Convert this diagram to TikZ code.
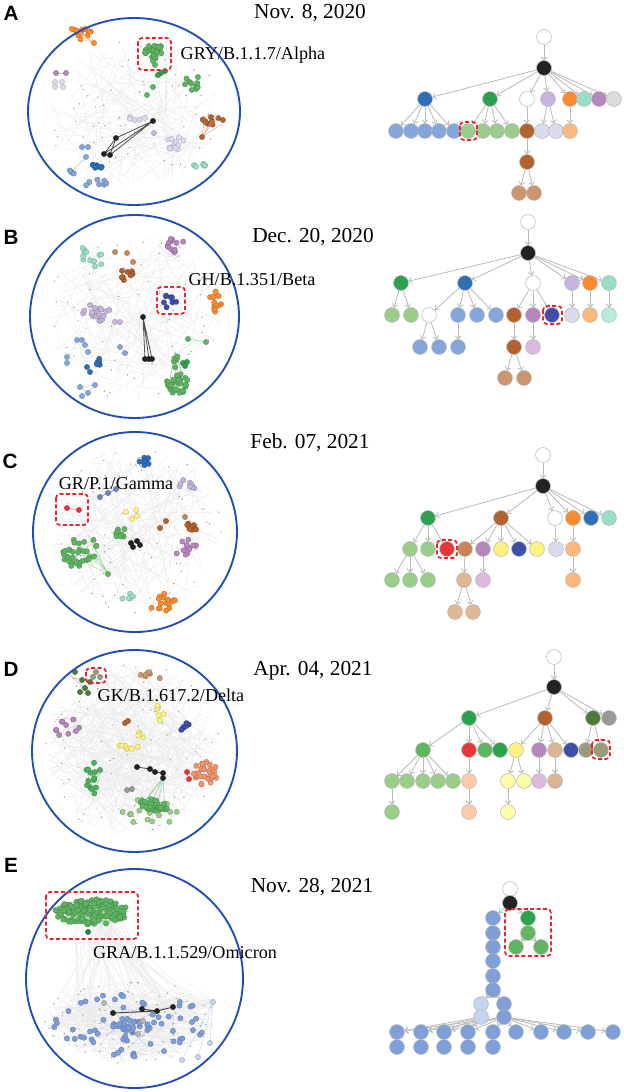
\documentclass[tikz,border=0pt]{standalone}
\usepackage{fontspec}
\setmainfont{Liberation Serif}
\newfontfamily\lsans{Liberation Sans}
\usetikzlibrary{arrows.meta}
\pgfdeclarelayer{bg}\pgfdeclarelayer{edg}\pgfsetlayers{bg,edg,main}
\definecolor{cBlack}{HTML}{222222}
\definecolor{cBlue}{HTML}{2F6FB8}
\definecolor{cGreen}{HTML}{2CA24E}
\definecolor{cLav}{HTML}{C6B4DC}
\definecolor{cOrange}{HTML}{F98B2E}
\definecolor{cTeal}{HTML}{99DDC9}
\definecolor{cPurple}{HTML}{B687BC}
\definecolor{cGray}{HTML}{DCDCDC}
\definecolor{cLBlue}{HTML}{84A6DA}
\definecolor{cLGreen}{HTML}{9ACD8A}
\definecolor{cBrown}{HTML}{B3612E}
\definecolor{cLLav}{HTML}{DCDBEE}
\definecolor{cLOrange}{HTML}{FCB77A}
\definecolor{cTan}{HTML}{CC9570}
\definecolor{cNavy}{HTML}{3F4FA8}
\definecolor{cLPurple}{HTML}{DCBADF}
\definecolor{cLTeal}{HTML}{B8EBDA}
\definecolor{cRed}{HTML}{E9363B}
\definecolor{cBrownish}{HTML}{C98558}
\definecolor{cYellow}{HTML}{FDF27E}
\definecolor{cLTan}{HTML}{DDB893}
\definecolor{cDOlive}{HTML}{4E7A3A}
\definecolor{cOGray}{HTML}{9A9B79}
\definecolor{cMGreen}{HTML}{5FB562}
\definecolor{cSalmonL}{HTML}{FDCBA5}
\definecolor{cDTan}{HTML}{DAB593}
\definecolor{cLYellow}{HTML}{FDFDA8}
\definecolor{cGrayD}{HTML}{999999}
\definecolor{cGrayL}{HTML}{B8B8B8}
\definecolor{cEBlue}{HTML}{7E9FD8}
\definecolor{cELBlue}{HTML}{C5D4EE}
\definecolor{cSalmon}{HTML}{F4926E}
\definecolor{cNavyL}{HTML}{7680C8}
\definecolor{cGreenD}{HTML}{238A40}
\definecolor{cGreenM}{HTML}{4DB05C}
\definecolor{cRing}{HTML}{1F4FB5}
\definecolor{cRedBox}{HTML}{E8262A}
\tikzset{
  tn/.style={circle, minimum size=11.2pt, inner sep=0pt, draw=black!28, line width=0.4pt},
  te/.style={draw=black!27, line width=0.6pt, -{Straight Barb[length=2.2pt,width=4.4pt]}},
  rb/.style={draw=cRedBox, line width=1.3pt, dash pattern=on 3pt off 1.8pt, rounded corners=3pt},
  ring/.style={draw=cRing, line width=1.4pt},
  netline/.style={draw=black!8, line width=0.25pt},
  datef/.style={font=\fontsize{16}{18}\selectfont},
  labf/.style={font=\fontsize{13.6}{15}\selectfont},
  letf/.style={font=\lsans\bfseries\fontsize{15.5}{15.5}\selectfont},
}
\newcommand\netlink[9]{%
 \foreach \k in {1,...,#9}{%
  \pgfmathsetmacro\qa{360*rnd}\pgfmathsetmacro\qr{sqrt(rnd)}%
  \pgfmathsetmacro\qb{360*rnd}\pgfmathsetmacro\qs{sqrt(rnd)}%
  \draw[netline] ({#1+#3*\qr*cos(\qa)},{#2+#4*\qr*sin(\qa)}) -- ({#5+#7*\qs*cos(\qb)},{#6+#8*\qs*sin(\qb)});}}
\newcommand\netdots[5]{%
 \foreach \k in {1,...,#5}{%
  \pgfmathsetmacro\qa{360*rnd}\pgfmathsetmacro\qr{sqrt(rnd)}%
  \fill[black!40] ({#1+#3*\qr*cos(\qa)},{#2+#4*\qr*sin(\qa)}) circle[radius=0.55pt];}}
\newcommand\netclus[7]{%
 \ifnum#7>0 \foreach \k in {1,...,#7}{%
  \pgfmathsetmacro\qa{360*rnd}\pgfmathsetmacro\qr{sqrt(rnd)}%
  \pgfmathsetmacro\qb{360*rnd}\pgfmathsetmacro\qs{sqrt(rnd)}%
  \draw[#6!55, line width=0.3pt] ({#1+#3*\qr*cos(\qa)},{#2+#4*\qr*sin(\qa)}) -- ({#1+#3*\qs*cos(\qb)},{#2+#4*\qs*sin(\qb)});}\fi
 \foreach \k in {1,...,#5}{%
  \pgfmathsetmacro\qa{360*rnd}\pgfmathsetmacro\qr{sqrt(rnd)}%
  \fill[#6, draw=#6!75!black, line width=0.25pt] ({#1+#3*\qr*cos(\qa)},{#2+#4*\qr*sin(\qa)}) circle[radius=2pt];}}
\newcommand\ndot[3]{\fill[#1, draw=#1!75!black, line width=0.25pt] (#2,#3) circle[radius=2pt];}
\newcommand\tnode[4]{\node[tn, fill=#1] (#2) at (#3,#4) {};}
\newcommand\tedges[2]{\begin{pgfonlayer}{edg}\foreach \t in {#2}{\draw[te] (#1) -- (\t);}\end{pgfonlayer}}
\begin{document}
\begin{tikzpicture}[x=0.75pt,y=-0.75pt]
\pgfmathsetseed{7}
\useasboundingbox (0,0) rectangle (624,1092);
\begin{pgfonlayer}{bg}\fill[white] (0,0) rectangle (624,1092);\end{pgfonlayer}

% ===================== Panel A =====================
\node[letf] (lA) at (11,13) {A};
\node[datef] (dA) at (310,13) {Nov. 8, 2020};
\netlink{134}{112}{88}{76}{134}{112}{88}{76}{110}
\netdots{134}{112}{88}{76}{60}
\netclus{80}{32}{12}{8}{12}{cOrange}{6}
\foreach \p in {(75,30),(82,34),(88,28),(70,36),(86,38)} \draw[cOrange!60, line width=0.3pt] (94,43) -- \p;
\ndot{cOrange}{94}{43}
\netclus{155}{52}{12}{7}{26}{cMGreen}{10}
\ndot{cMGreen}{153}{61}\ndot{cMGreen}{155}{65}
\ndot{cGreen}{161}{73}\ndot{cGreen}{165}{71}\ndot{cGreen}{158}{75}
\netclus{193}{83}{9}{7}{10}{cMGreen}{4}
\ndot{cMGreen}{153}{87}\ndot{cMGreen}{147}{95}
\draw[cPurple!60] (56,73) -- (66,73); \ndot{cPurple}{56}{73}\ndot{cPurple}{66}{73}
\ndot{cLLav}{55}{82}\ndot{cLLav}{62}{82}\ndot{cLLav}{55}{87}\ndot{cLLav}{63}{87}
\netclus{137}{118}{8}{3}{5}{cLLav}{0}
\draw[cBlack!80, line width=0.6pt] (153,121) -- (104,154) (153,121) -- (110,155) (116,138) -- (104,154) (116,138) -- (110,155) (153,121) -- (116,138);
\ndot{cBlack}{153}{121}\ndot{cBlack}{116}{138}\ndot{cBlack}{104}{154}\ndot{cBlack}{110}{155}
\netclus{176}{143}{11}{7}{14}{cLLav}{0}
\ndot{cLav}{154}{133}
\netclus{212}{120}{12}{6}{10}{cBrown}{3}
\foreach \p in {(205,117),(212,120),(218,115),(222,124)} \draw[cBrown!60, line width=0.3pt] (202,137) -- \p;
\ndot{cBrown}{202}{137}
\netclus{198}{166}{10}{3}{6}{cTeal}{3}
\draw[cLBlue!70] (86,157) -- (73,170);
\ndot{cLBlue}{82}{147}\ndot{cLBlue}{88}{147}\ndot{cLBlue}{86}{157}
\netclus{97}{166}{5}{3}{7}{cBlue}{0}
\netclus{73}{171}{5}{3}{4}{cLBlue}{1}
\netclus{95}{182}{13}{5}{7}{cLBlue}{2}
\draw[ring] (134,111.5) ellipse[x radius=106, y radius=93.5];
\draw[rb] (138,38) rectangle (171,70);
\node[labf] (vA) at (253,55) {GRY/B.1.1.7/Alpha};

% tree A
\tnode{white}{A0}{544}{37}
\tnode{cBlack}{A1}{544}{68}
\tnode{cBlue}{A2a}{425}{99}\tnode{cGreen}{A2b}{490}{99}\tnode{white}{A2c}{527}{99}
\tnode{cLav}{A2d}{548}{99}\tnode{cOrange}{A2e}{570}{99}\tnode{cTeal}{A2f}{584}{99}
\tnode{cPurple}{A2g}{599}{99}\tnode{cGray}{A2h}{614}{99}
\tnode{cLBlue}{A3a}{396}{131}\tnode{cLBlue}{A3b}{411}{131}\tnode{cLBlue}{A3c}{425}{131}
\tnode{cLBlue}{A3d}{439}{131}\tnode{cLBlue}{A3e}{454}{131}
\tnode{cLGreen}{A3f}{468}{131}\tnode{cLGreen}{A3g}{483}{131}\tnode{cLGreen}{A3h}{497}{131}\tnode{cLGreen}{A3i}{512}{131}
\tnode{cBrown}{A3j}{527}{131}\tnode{cLLav}{A3k}{542}{131}\tnode{cLLav}{A3l}{556}{131}\tnode{cLOrange}{A3m}{570}{131}
\tnode{cBrown}{A4}{527}{162}
\tnode{cTan}{A5a}{519}{193}\tnode{cTan}{A5b}{534}{193}
\tedges{A0}{A1}
\tedges{A1}{A2a,A2b,A2c,A2d,A2e,A2f,A2g,A2h}
\tedges{A2a}{A3a,A3b,A3c,A3d,A3e}
\tedges{A2b}{A3f,A3g,A3h,A3i}
\tedges{A2c}{A3j}
\tedges{A2d}{A3k,A3l}
\tedges{A2e}{A3m}
\tedges{A3j}{A4}
\tedges{A4}{A5a,A5b}
\draw[rb] (460,122) rectangle (477,140);

% ===================== Panel B =====================
\node[letf] (lB) at (11,237) {B};
\node[datef] (dB) at (313,237) {Dec. 20, 2020};
\netlink{134}{316}{88}{85}{134}{316}{88}{85}{120}
\netdots{134}{316}{88}{85}{60}
\netclus{93}{255}{13}{12}{12}{cTeal}{5}
\ndot{cBrownish}{115}{252}\ndot{cBrownish}{127}{253}\ndot{cBrownish}{133}{262}
\netclus{127}{275}{6}{8}{8}{cBrown}{2}
\netclus{175}{248}{12}{12}{12}{cPurple}{4}
\netclus{169}{301}{8}{7}{8}{cNavy}{3}
\netclus{216}{301}{7}{11}{12}{cOrange}{4}
\netclus{96}{313}{14}{10}{20}{cLav}{4}
\ndot{cLav}{115}{322}\ndot{cLav}{120}{322}
\draw[cBlack!80, line width=0.6pt] (143,317) -- (145,359) (143,317) -- (149,359) (143,317) -- (152,359);
\ndot{cBlack}{143}{317}\ndot{cBlack}{145}{359}\ndot{cBlack}{149}{359}\ndot{cBlack}{152}{359}
\draw[cMGreen!60] (188,339) -- (206,342); \ndot{cMGreen}{188}{339}\ndot{cMGreen}{206}{342}
\foreach \p in {(170,378),(176,385),(184,380),(188,390),(168,392),(180,395)} \draw[cMGreen!60, line width=0.3pt] (175,352) -- \p;
\netclus{178}{384}{12}{10}{30}{cMGreen}{8}
\netclus{175}{361}{3}{8}{6}{cMGreen}{3}
\ndot{cGreen}{183}{363}\ndot{cGreen}{187}{362}\ndot{cGreen}{185}{366}
\ndot{cLBlue}{77}{340}\ndot{cLBlue}{82}{340}\ndot{cLBlue}{85}{345}\ndot{cLBlue}{88}{352}
\ndot{cLBlue}{67}{357}\ndot{cLBlue}{67}{363}
\netclus{100}{362}{4}{4}{6}{cBlue}{0}
\ndot{cBlue}{87}{367}\ndot{cBlue}{90}{372}
\ndot{cLBlue}{120}{347}\ndot{cLBlue}{125}{353}
\draw[cLBlue!70] (80,387) -- (95,385) -- (88,393) -- (80,387);
\ndot{cLBlue}{80}{387}\ndot{cLBlue}{95}{385}\ndot{cLBlue}{88}{393}\ndot{cLBlue}{82}{396}
\draw[ring] (134.5,316.5) ellipse[x radius=104.5, y radius=101.5];
\draw[rb] (157,287) rectangle (185,314);
\node[labf] (vB) at (252,280) {GH/B.1.351/Beta};

% tree B
\tnode{white}{B0}{528}{222}
\tnode{cBlack}{B1}{528}{253}
\tnode{cGreen}{B2a}{401}{283}\tnode{cBlue}{B2b}{465}{283}\tnode{white}{B2c}{533}{283}
\tnode{cLav}{B2d}{572}{283}\tnode{cOrange}{B2e}{590}{283}\tnode{cTeal}{B2f}{609}{283}
\tnode{cLGreen}{B3a}{392}{315}\tnode{cLGreen}{B3b}{411}{315}\tnode{white}{B3c}{429}{315}
\tnode{cLBlue}{B3d}{458}{315}\tnode{cLBlue}{B3e}{477}{315}\tnode{cLBlue}{B3f}{496}{315}
\tnode{cBrown}{B3g}{514}{315}\tnode{cPurple}{B3h}{533}{315}\tnode{cNavy}{B3i}{552}{315}
\tnode{cLLav}{B3j}{572}{315}\tnode{cLOrange}{B3k}{590}{315}\tnode{cLTeal}{B3l}{609}{315}
\tnode{cLBlue}{B4a}{420}{347}\tnode{cLBlue}{B4b}{439}{347}\tnode{cLBlue}{B4c}{458}{347}
\tnode{cBrown}{B4d}{514}{347}\tnode{cLPurple}{B4e}{533}{347}
\tnode{cTan}{B5a}{505}{378}\tnode{cTan}{B5b}{524}{378}
\tedges{B0}{B1}
\tedges{B1}{B2a,B2b,B2c,B2d,B2e,B2f}
\tedges{B2a}{B3a,B3b}
\tedges{B2b}{B3c,B3d,B3e,B3f}
\tedges{B3c}{B4a,B4b}
\tedges{B3d}{B4c}
\tedges{B2c}{B3g,B3h,B3i}
\tedges{B2d}{B3j}
\tedges{B2e}{B3k}
\tedges{B2f}{B3l}
\tedges{B3g}{B4d}
\tedges{B3h}{B4e}
\tedges{B4d}{B5a,B5b}
\draw[rb] (543,306) rectangle (562,324);

% ===================== Panel C =====================
\node[letf] (lC) at (10,461) {C};
\node[datef] (dC) at (310,443) {Feb. 07, 2021};
\netlink{135}{530}{88}{85}{135}{530}{88}{85}{150}
\netdots{135}{530}{88}{85}{60}
\netclus{142}{463}{9}{7}{8}{cBlue}{6}
\netclus{188}{486}{9}{7}{8}{cLav}{3}
\draw[cNavyL] (100,497) -- (116,489);
\ndot{cNavyL}{100}{497}\ndot{cNavyL}{108}{493}\ndot{cNavyL}{116}{489}
\draw[cRed!70] (67,508) -- (79,510); \ndot{cRed}{67}{508}\ndot{cRed}{79}{510}
\ndot{cYellow}{126}{512}\ndot{cYellow}{136}{510}\ndot{cYellow}{137}{516}\ndot{cYellow}{132}{519}
\draw[cBrown!60] (160,528) -- (166,521); \ndot{cBrown}{160}{528}\ndot{cBrown}{166}{521}
\ndot{cBrownish}{185}{517}
\netclus{193}{526}{7}{6}{8}{cBrown}{2}
\ndot{cBlack}{131}{543}\ndot{cBlack}{137}{541}\ndot{cBlack}{133}{547}\ndot{cBlack}{140}{545}
\netclus{118}{533}{9}{6}{8}{cMGreen}{4}
\foreach \p in {(85,548),(95,555),(90,540),(100,562),(80,560),(88,535)} \draw[cMGreen!60, line width=0.3pt] (108,574) -- \p;
\netclus{82}{553}{20}{16}{32}{cMGreen}{12}
\ndot{cMGreen}{108}{574}
\netclus{186}{550}{13}{12}{14}{cPurple}{6}
\netclus{128}{596}{8}{4}{5}{cTeal}{2}
\netclus{162}{603}{14}{10}{16}{cOrange}{8}
\draw[ring] (135,532) ellipse[x radius=102, y radius=100];
\draw[rb] (56,494) rectangle (88,525);
\node[labf] (vC) at (116,484) {GR/P.1/Gamma};

% tree C
\tnode{white}{C0}{543}{455}
\tnode{cBlack}{C1}{543}{486}
\tnode{cGreen}{C2a}{428}{518}\tnode{cBrown}{C2b}{501}{518}\tnode{white}{C2c}{555}{518}
\tnode{cOrange}{C2d}{573}{518}\tnode{cBlue}{C2e}{591}{518}\tnode{cTeal}{C2f}{609}{518}
\tnode{cLGreen}{C3a}{410}{549}\tnode{cLGreen}{C3b}{428}{549}\tnode{cRed}{C3c}{447}{549}
\tnode{cBrownish}{C3d}{465}{549}\tnode{cPurple}{C3e}{483}{549}\tnode{cYellow}{C3f}{501}{549}
\tnode{cNavy}{C3g}{519}{549}\tnode{cYellow}{C3h}{537}{549}\tnode{cLLav}{C3i}{556}{549}
\tnode{cLOrange}{C3j}{573}{549}
\tnode{cLGreen}{C4a}{392}{580}\tnode{cLGreen}{C4b}{410}{580}\tnode{cLGreen}{C4c}{428}{580}
\tnode{cLTan}{C4d}{464}{580}\tnode{cLPurple}{C4e}{483}{580}\tnode{cLOrange}{C4f}{573}{580}
\tnode{cLTan}{C5a}{455}{612}\tnode{cLTan}{C5b}{473}{612}
\tedges{C0}{C1}
\tedges{C1}{C2a,C2b,C2c,C2d,C2e,C2f}
\tedges{C2a}{C3a,C3b,C3c}
\tedges{C2b}{C3d,C3e,C3f,C3g,C3h}
\tedges{C2c}{C3i}
\tedges{C2d}{C3j}
\tedges{C3a}{C4a,C4b,C4c}
\tedges{C3d}{C4d}
\tedges{C3e}{C4e}
\tedges{C3j}{C4f}
\tedges{C4d}{C5a,C5b}
\draw[rb] (437,540) rectangle (457,558);

% ===================== Panel D =====================
\node[letf] (lD) at (11,669) {D};
\node[datef] (dD) at (313,671) {Apr. 04, 2021};
\netlink{134}{750}{90}{88}{134}{750}{90}{88}{320}
\netdots{134}{750}{90}{88}{70}
\draw[cDOlive!50] (70,675) -- (85,688) (72,678) -- (90,680);
\ndot{cDOlive}{75}{672}\ndot{cDOlive}{82}{680}\ndot{cDOlive}{85}{688}\ndot{cDOlive}{90}{682}
\ndot{cDOlive}{80}{692}\ndot{cDOlive}{88}{693}
\ndot{cOGray}{93}{677}\ndot{cOGray}{100}{677}\ndot{cOGray}{96}{672}
\netclus{150}{676}{12}{4}{8}{cTan}{3}
\netclus{67}{725}{14}{12}{10}{cPurple}{6}
\netclus{160}{713}{6}{8}{6}{cYellow}{2}
\netclus{142}{735}{6}{3}{4}{cYellow}{0}
\netclus{128}{747}{10}{3}{7}{cYellow}{1}
\ndot{cBrown}{125}{723}\ndot{cBrown}{128}{721}
\netclus{185}{727}{5}{5}{7}{cNavy}{4}
\netclus{205}{773}{13}{12}{30}{cSalmon}{5}
\ndot{cRed}{187}{772}\ndot{cRed}{189}{779}
\netclus{93}{778}{9}{17}{14}{cGreenM}{8}
\ndot{cGrayD}{127}{790}\ndot{cGrayD}{132}{789}
\netclus{150}{812}{28}{14}{20}{cLGreen}{0}
\foreach \p in {(145,800),(150,806),(158,803),(165,810),(140,808)} \draw[cGreen!60, line width=0.3pt] (163,778) -- \p;
\netclus{153}{806}{15}{7}{35}{cMGreen}{10}
\draw[cBlack!80, line width=0.6pt] (137,767) -- (150,769) -- (155,772) -- (163,773) -- (163,778);
\ndot{cBlack}{137}{767}\ndot{cBlack}{150}{769}\ndot{cBlack}{155}{772}\ndot{cBlack}{163}{773}\ndot{cBlack}{163}{778}
\draw[ring] (134.5,751) ellipse[x radius=102.5, y radius=101];
\draw[rb] (86,668) rectangle (106,683);
\node[labf] (vD) at (171,695) {GK/B.1.617.2/Delta};

% tree D
\tnode{white}{D0}{554}{657}
\tnode{cBlack}{D1}{554}{687}
\tnode{cGreen}{D2a}{469}{718}\tnode{cBrown}{D2b}{545}{718}\tnode{cDOlive}{D2c}{593}{718}\tnode{cGrayD}{D2d}{609}{718}
\tnode{cMGreen}{D3a}{423}{750}\tnode{cRed}{D3b}{469}{750}\tnode{cMGreen}{D3c}{485}{750}
\tnode{cGreen}{D3d}{500}{750}\tnode{cYellow}{D3e}{516}{750}\tnode{cPurple}{D3f}{539}{750}
\tnode{cDTan}{D3g}{555}{750}\tnode{cNavy}{D3h}{571}{750}\tnode{cOGray}{D3i}{586}{750}\tnode{cOGray}{D3j}{601}{750}
\tnode{cLGreen}{D4a}{392}{781}\tnode{cLGreen}{D4b}{407}{781}\tnode{cLGreen}{D4c}{423}{781}
\tnode{cLGreen}{D4d}{438}{781}\tnode{cLGreen}{D4e}{453}{781}
\tnode{cSalmonL}{D4f}{469}{781}\tnode{cLYellow}{D4g}{508}{781}\tnode{cLYellow}{D4h}{524}{781}
\tnode{cLPurple}{D4i}{539}{781}\tnode{cDTan}{D4j}{555}{781}
\tnode{cLGreen}{D5a}{392}{812}\tnode{cSalmonL}{D5b}{469}{812}\tnode{cLYellow}{D5c}{508}{812}
\tedges{D0}{D1}
\tedges{D1}{D2a,D2b,D2c,D2d}
\tedges{D2a}{D3a,D3b,D3c,D3d}
\tedges{D2b}{D3e,D3f,D3g,D3h}
\tedges{D2c}{D3i,D3j}
\tedges{D3a}{D4a,D4b,D4c,D4d,D4e}
\tedges{D3b}{D4f}
\tedges{D3e}{D4g,D4h}
\tedges{D3f}{D4i}
\tedges{D3g}{D4j}
\tedges{D4a}{D5a}
\tedges{D4f}{D5b}
\tedges{D4g}{D5c}
\draw[rb] (592,740) rectangle (610,759);

% ===================== Panel E =====================
\node[letf] (lE) at (11,865) {E};
\node[datef] (dE) at (312,887) {Nov. 28, 2021};
\netlink{130}{1022}{88}{42}{130}{1022}{88}{42}{260}
\netlink{95}{915}{30}{10}{130}{1012}{80}{38}{70}
\netlink{130}{1010}{85}{45}{212}{1002}{3}{3}{25}
\netdots{130}{1022}{88}{42}{80}
\netclus{92}{912}{37}{13}{150}{cMGreen}{220}
\ndot{cGreenD}{88}{932}
\netclus{130}{1025}{80}{32}{60}{cEBlue}{8}
\netclus{130}{1025}{22}{7}{25}{cEBlue}{0}
\ndot{cGrayL}{104}{1003}\ndot{cGrayL}{138}{1034}\ndot{cGrayL}{143}{1021}
\draw[cBlack!85, line width=0.7pt] (113,1013) -- (157,1011) (142,1009) -- (157,1011) -- (173,1007);
\ndot{cBlack}{113}{1013}\ndot{cBlack}{142}{1009}\ndot{cBlack}{157}{1011}\ndot{cBlack}{173}{1007}
\draw[cELBlue, line width=0.3pt] (213,1002) -- (182,1060) (213,1002) -- (198,1057) (213,1002) -- (210,1043);
\ndot{cELBlue}{213}{1002}\ndot{cELBlue}{182}{1060}\ndot{cELBlue}{198}{1057}\ndot{cELBlue}{210}{1043}
\draw[ring] (134.5,978.5) ellipse[x radius=108.5, y radius=109.5];
\draw[rb] (46,892) rectangle (138,939);
\node[labf] (vE) at (185,953) {GRA/B.1.1.529/Omicron};

% tree E
\tnode{white}{E0}{510}{889}
\tnode{cBlack}{E1}{510}{903}
\tnode{cEBlue}{E2a}{493}{918}\tnode{cEBlue}{E2b}{493}{933}\tnode{cEBlue}{E2c}{493}{947}
\tnode{cEBlue}{E2d}{493}{961}\tnode{cEBlue}{E2e}{493}{976}\tnode{cEBlue}{E2f}{493}{990}
\tnode{cGreen}{Eg1}{528}{918}\tnode{cMGreen}{Eg2}{528}{933}
\tnode{cMGreen}{Eg3}{516}{947}\tnode{cMGreen}{Eg4}{541}{947}
\tnode{cELBlue}{E3a}{481}{1004}\tnode{cELBlue}{E3b}{481}{1017}
\tnode{cEBlue}{E3c}{504}{1004}\tnode{cEBlue}{E3d}{504}{1017}
\tnode{cEBlue}{E4a}{397}{1032}\tnode{cEBlue}{E4b}{421}{1032}\tnode{cEBlue}{E4c}{444}{1032}
\tnode{cEBlue}{E4d}{468}{1032}\tnode{cEBlue}{E4e}{493}{1032}\tnode{cEBlue}{E4f}{516}{1032}
\tnode{cEBlue}{E4g}{541}{1032}\tnode{cEBlue}{E4h}{564}{1032}\tnode{cEBlue}{E4i}{588}{1032}
\tnode{cEBlue}{E4j}{613}{1032}
\tnode{cEBlue}{E5a}{397}{1047}\tnode{cEBlue}{E5b}{421}{1047}\tnode{cEBlue}{E5c}{444}{1047}
\tnode{cEBlue}{E5d}{468}{1047}\tnode{cEBlue}{E5e}{493}{1047}
\tedges{E0}{E1}
\tedges{E1}{E2a,Eg1}
\tedges{Eg1}{Eg2}
\tedges{Eg2}{Eg3,Eg4}
\tedges{E2a}{E2b}\tedges{E2b}{E2c}\tedges{E2c}{E2d}\tedges{E2d}{E2e}\tedges{E2e}{E2f}
\tedges{E2f}{E3a,E3c}
\tedges{E3a}{E3b}
\tedges{E3c}{E3d}
\tedges{E3d}{E4a,E4b,E4c,E4d,E4e,E4f,E4g,E4h,E4i,E4j}
\tedges{E3b}{E4a,E4b,E4c,E4d}
\tedges{E4a}{E5a}\tedges{E4b}{E5b}\tedges{E4c}{E5c}\tedges{E4d}{E5d}\tedges{E4e}{E5e}
\draw[rb] (505,909) rectangle (551,956);
\end{tikzpicture}
\end{document}
